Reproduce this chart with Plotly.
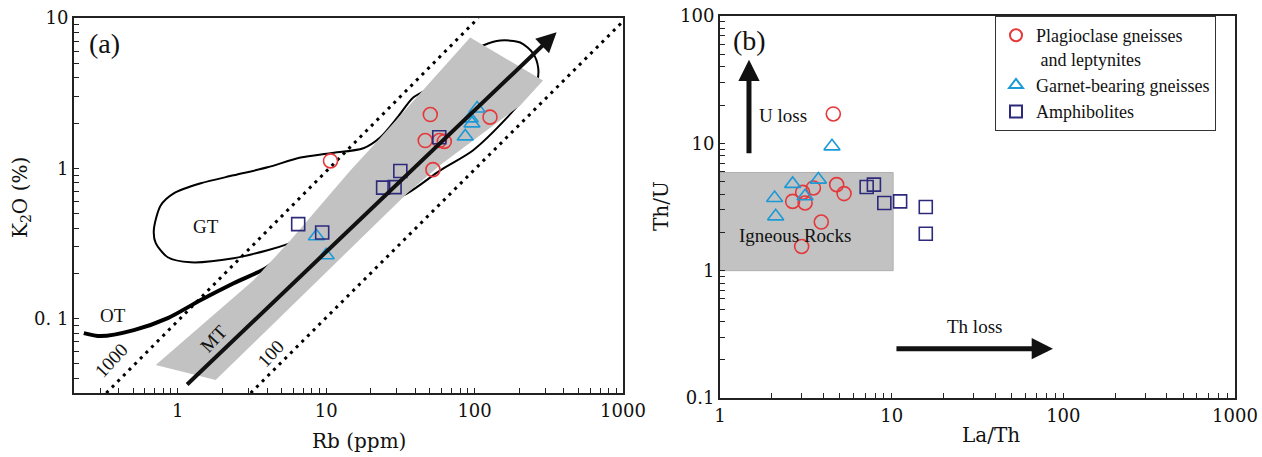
import numpy as np
import plotly.graph_objects as go

# ---------------- Panel (a): K2O vs Rb ----------------
plag_rb = [10.7, 50.3, 127, 46.5, 58, 62.5, 52.4]
plag_k2o = [1.12, 2.28, 2.19, 1.53, 1.53, 1.51, 0.98]
garnet_rb = [104, 93.4, 96, 86.5, 8.6, 10.0]
garnet_k2o = [2.5, 2.15, 1.99, 1.63, 0.353, 0.264]
amph_rb = [6.48, 9.4, 31.6, 24.2, 28.9, 57.8]
amph_k2o = [0.425, 0.374, 0.96, 0.744, 0.75, 1.61]

# K/Rb reference lines (end points)
line1000_rb = [0.33, 106]
line1000_k2o = [0.032, 10]
line100_rb = [3.1, 1000]
line100_k2o = [0.032, 9.5]

# GT field outline
gt_rb = [5.75, 4.03, 2.38, 1.22, 0.857, 0.711, 0.690, 0.769, 0.940, 1.43, 2.38, 4.03,
         6.72, 10.7, 17.8, 23.2, 30.2, 38.6, 50.3, 65.4, 86.5, 114, 149, 203, 248, 268,
         264, 237, 166, 97.9, 58.7, 35.2, 14.6, 5.75]
gt_k2o = [0.318, 0.285, 0.252, 0.237, 0.256, 0.318, 0.387, 0.568, 0.682, 0.795, 0.898, 1.015,
          1.18, 1.26, 1.36, 1.61, 2.18, 2.96, 3.45, 4.48, 5.63, 6.56, 7.08, 6.87, 5.81, 4.69,
          3.84, 3.30, 2.18, 1.32, 0.97, 0.682, 0.465, 0.318]
# OT trend
ot_rb = [0.233, 0.303, 0.506, 0.857, 1.43, 2.38, 4.03, 5.49, 5.75]
ot_k2o = [0.0801, 0.0765, 0.0839, 0.1008, 0.133, 0.172, 0.220, 0.285, 0.318]
# MT band
mt_rb = [0.711, 3.24, 5.75, 14.6, 20.8, 44.4, 93.4, 289, 203, 58.7, 35.2, 1.80, 0.711]
mt_k2o = [0.0491, 0.180, 0.332, 0.97, 1.42, 3.30, 7.42, 3.84, 2.62, 1.05, 0.682, 0.039, 0.0491]
# MT arrow (start, tip)
mt_arrow_rb = [1.13, 357]
mt_arrow_k2o = [0.0357, 8.05]

# ---------------- Panel (b): Th/U vs La/Th ----------------
plag_lath = [4.57, 4.78, 5.28, 3.5, 3.03, 2.65, 3.13, 3.89, 2.99]
plag_thu = [17.0, 4.74, 4.03, 4.46, 4.12, 3.5, 3.4, 2.41, 1.55]
garnet_lath = [4.49, 3.74, 2.65, 2.08, 3.13, 2.11]
garnet_thu = [9.47, 5.19, 4.8, 3.72, 3.84, 2.67]
amph_lath = [7.15, 7.88, 9.06, 11.2, 15.8, 15.8]
amph_thu = [4.54, 4.74, 3.4, 3.5, 3.16, 1.95]

igneous_lath = [1, 10.2]
igneous_thu = [1, 5.9]
uloss_lath = [1.475, 1.475]
uloss_thu = [8.15, 45.4]
thloss_lath = [10.45, 87]
thloss_thu = [0.244, 0.244]

series_names = ["Plagioclase gneisses<br> and leptynites", "Garnet-bearing gneisses", "Amphibolites"]
RED, BLUE, NAVY = "#E5383B", "#1C9AD6", "#2D2A7C"
GREY = "#C2C2C2"
SERIF = "Liberation Serif"
SERIF2 = "DejaVu Serif"

fig = go.Figure()

dot = dict(color="black", width=3, dash="3px,5px")
fig.add_trace(go.Scatter(x=line1000_rb, y=line1000_k2o, mode="lines", line=dot,
                         showlegend=False, hoverinfo="skip", xaxis="x", yaxis="y"))
fig.add_trace(go.Scatter(x=line100_rb, y=line100_k2o, mode="lines", line=dot,
                         showlegend=False, hoverinfo="skip", xaxis="x", yaxis="y"))
fig.add_trace(go.Scatter(x=gt_rb, y=gt_k2o, mode="lines", line=dict(color="black", width=2, shape="spline", smoothing=0.8),
                         showlegend=False, hoverinfo="skip", xaxis="x", yaxis="y"))
fig.add_trace(go.Scatter(x=ot_rb, y=ot_k2o, mode="lines", line=dict(color="black", width=4, shape="spline", smoothing=0.8),
                         showlegend=False, hoverinfo="skip", xaxis="x", yaxis="y"))
fig.add_trace(go.Scatter(x=mt_rb, y=mt_k2o, mode="lines", fill="toself", fillcolor=GREY,
                         line=dict(width=0, color=GREY), showlegend=False, hoverinfo="skip",
                         xaxis="x", yaxis="y"))

def mk(symbol, color, size):
    return dict(symbol=symbol, size=size, color=color, line=dict(color=color, width=1.6))

fig.add_trace(go.Scatter(x=plag_rb, y=plag_k2o, mode="markers", marker=mk("circle-open", RED, 14),
                         showlegend=False, xaxis="x", yaxis="y"))
fig.add_trace(go.Scatter(x=garnet_rb, y=garnet_k2o, mode="markers", marker=mk("triangle-up-open", BLUE, 14),
                         showlegend=False, xaxis="x", yaxis="y"))
fig.add_trace(go.Scatter(x=amph_rb, y=amph_k2o, mode="markers", marker=mk("square-open", NAVY, 13),
                         showlegend=False, xaxis="x", yaxis="y"))

box_x = [igneous_lath[0], igneous_lath[1], igneous_lath[1], igneous_lath[0], igneous_lath[0]]
box_y = [igneous_thu[0], igneous_thu[0], igneous_thu[1], igneous_thu[1], igneous_thu[0]]
fig.add_trace(go.Scatter(x=box_x, y=box_y, mode="lines", fill="toself", fillcolor=GREY,
                         line=dict(width=1, color="#AFAFAF"), showlegend=False, hoverinfo="skip",
                         xaxis="x2", yaxis="y2"))
fig.add_trace(go.Scatter(x=plag_lath, y=plag_thu, mode="markers", name=series_names[0],
                         marker=mk("circle-open", RED, 14), xaxis="x2", yaxis="y2"))
fig.add_trace(go.Scatter(x=garnet_lath, y=garnet_thu, mode="markers", name=series_names[1],
                         marker=mk("triangle-up-open", BLUE, 14), xaxis="x2", yaxis="y2"))
fig.add_trace(go.Scatter(x=amph_lath, y=amph_thu, mode="markers", name=series_names[2],
                         marker=mk("square-open", NAVY, 13), xaxis="x2", yaxis="y2"))

L = np.log10
ann = []
def arrow(xs, ys, xr, yr, w, size):
    return dict(x=L(xs[1]), y=L(ys[1]), ax=L(xs[0]), ay=L(ys[0]), xref=xr, yref=yr,
                axref=xr, ayref=yr, text="", showarrow=True, arrowhead=2, arrowsize=size,
                arrowwidth=w, arrowcolor="#111")
ann.append(arrow(mt_arrow_rb, mt_arrow_k2o, "x", "y", 4, 1.0))
ann.append(arrow(uloss_lath, uloss_thu, "x2", "y2", 5, 0.85))
ann.append(arrow(thloss_lath, thloss_thu, "x2", "y2", 5, 0.85))

labels_a = [("GT", 1.54, 0.41, 0), ("OT", 0.366, 0.105, 0), ("MT", 1.75, 0.074, -47),
            ("1000", 0.355, 0.053, -47), ("100", 4.22, 0.059, -47)]
for t, x, y, a in labels_a:
    ann.append(dict(x=L(x), y=L(y), xref="x", yref="y", text=t, showarrow=False, textangle=a,
                    xanchor="center", yanchor="middle",
                    font=dict(family=SERIF, size=19, color="#111")))
labels_b = [("U loss", 2.33, 16.5), ("Th loss", 30.5, 0.363), ("Igneous Rocks", 2.73, 1.88)]
for t, x, y in labels_b:
    ann.append(dict(x=L(x), y=L(y), xref="x2", yref="y2", text=t, showarrow=False,
                    xanchor="center", yanchor="middle",
                    font=dict(family=SERIF, size=19, color="#111")))

W, H = 1262, 457
def paper_text(t, px, py, size, family, angle=0):
    return dict(x=px / W, y=1 - py / H, xref="paper", yref="paper", text=t, showarrow=False,
                xanchor="center", yanchor="middle", textangle=angle,
                font=dict(family=family, size=size, color="#111"))

ann.append(paper_text("(a)", 104, 43, 28, SERIF))
ann.append(paper_text("(b)", 749, 40, 28, SERIF))
ann.append(paper_text("Rb (ppm)", 359, 441, 20, SERIF2))
ann.append(paper_text("La/Th", 991, 435, 20, SERIF2))
ann.append(paper_text("K<sub>2</sub>O (%)", 21, 198, 20, SERIF2, -90))
ann.append(paper_text("Th/U", 661, 206, 20, SERIF2, -90))

def logticks(lo, hi, labels):
    vals, txt = [], []
    for e in range(lo, hi + 1):
        for m in range(1, 10):
            v = m * 10.0 ** e
            if v > 10.0 ** hi * 1.0001:
                break
            vals.append(v)
            txt.append(labels.get(e, "") if m == 1 else "")
    return vals, txt

tickfont = dict(family=SERIF2, size=18, color="#111")
axcommon = dict(type="log", showgrid=False, zeroline=False, showline=True, linecolor="#222",
                linewidth=2, mirror=True, ticks="inside", ticklen=5, tickwidth=1.4, tickcolor="#222",
                tickfont=tickfont, automargin=False)

ax_tv, ax_tt = logticks(-1, 3, {0: "1", 1: "10", 2: "100", 3: "1000"})
ay_tv, ay_tt = logticks(-2, 1, {-1: "0. 1", 0: "1", 1: "10"})
bx_tv, bx_tt = logticks(0, 3, {0: "1", 1: "10", 2: "100", 3: "1000"})
by_tv, by_tt = logticks(-1, 2, {-1: "0.1", 0: "1", 1: "10", 2: "100"})

fig.update_layout(
    width=W, height=H, margin=dict(l=0, r=0, t=0, b=0, autoexpand=False),
    paper_bgcolor="white", plot_bgcolor="white",
    xaxis=dict(axcommon, domain=[74/W, 623/W], range=[L(0.2), 3],
               tickvals=ax_tv, ticktext=ax_tt, anchor="y"),
    yaxis=dict(axcommon, domain=[1-393/H, 1-18/H], range=[L(0.032), 1],
               tickvals=ay_tv, ticktext=ay_tt, anchor="x"),
    xaxis2=dict(axcommon, domain=[720/W, 1235/W], range=[0, 3],
                tickvals=bx_tv, ticktext=bx_tt, anchor="y2"),
    yaxis2=dict(axcommon, domain=[1-398/H, 1-16/H], range=[-1, 2],
                tickvals=by_tv, ticktext=by_tt, anchor="x2"),
    legend=dict(x=995/W, y=1-16/H, xanchor="left", yanchor="top", bgcolor="white",
                bordercolor="#333", borderwidth=1, valign="top",
                font=dict(family=SERIF, size=18, color="#111"), itemsizing="constant",
                tracegroupgap=0),
    annotations=ann,
    showlegend=True,
)

fig.write_html("out.html", config={"displayModeBar": False},
               post_script="document.body.style.margin='0';document.body.style.padding='0';"
                           "document.body.style.overflow='hidden';")
